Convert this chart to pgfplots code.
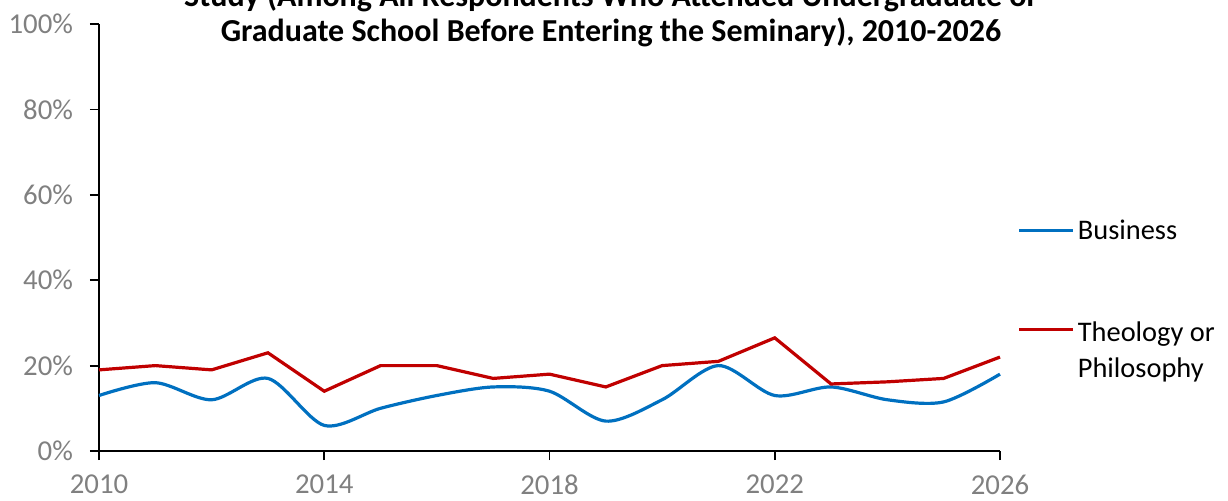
\documentclass[border=0pt]{standalone}
\usepackage{pgfplots}
\pgfplotsset{compat=1.18}
\usepackage{fontspec}
\setmainfont{Carlito}

\definecolor{bizblue}{HTML}{0070C0}
\definecolor{theored}{HTML}{C00000}
\definecolor{ticktext}{HTML}{808080}

\begin{document}
\begin{tikzpicture}
% page = 1228 x 500 px at 0.5pt per px, axis origin at px (99,451)
\useasboundingbox (-49.5pt,-24.5pt) rectangle (564.5pt,225.5pt);
\begin{axis}[
    at={(0pt,0pt)}, anchor=south west,
    scale only axis,
    width=450.5pt, height=213.5pt,
    xmin=2010, xmax=2026,
    ymin=0, ymax=100,
    xtick={2010,2014,2018,2022,2026},
    ytick={0,20,40,60,80,100},
    yticklabel={\pgfmathprintnumber{\tick}\%},
    xticklabel style={/pgf/number format/1000 sep={}, yshift=-4pt},
    yticklabel style={xshift=-5pt},
    /pgf/number format/assume math mode=true,
    tick label style={font=\fontsize{14.4}{17}\selectfont, text=ticktext},
    axis x line*=bottom, axis y line*=left,
    axis line style={black, line width=0.9pt},
    tick style={black, line width=0.9pt},
    tick align=outside,
    major tick length=4.5pt,
    xtick pos=bottom, ytick pos=left,
    clip=false,
    legend style={
        at={(1.0192,0.543)}, anchor=north west,
        draw=none, fill=none, inner sep=0pt,
        row sep=36.7pt, column sep=1.5pt,
        font=\fontsize{14.2}{18.3}\selectfont,
        nodes={inner sep=0pt},
    },
    legend cell align=left,
    legend image code/.code={\draw[#1] (0pt,0pt) -- (27pt,0pt);},
]
\addplot[bizblue, line width=1.6pt, smooth, tension=0.5] coordinates {
    (2010,13) (2011,16) (2012,12) (2013,17) (2014,6) (2015,10)
    (2016,13) (2017,15) (2018,14) (2019,7) (2020,12) (2021,20)
    (2022,13) (2023,15) (2024,12) (2025,11.5) (2026,18)
};
\addlegendentry{Business}
\addplot[theored, line width=1.6pt] coordinates {
    (2010,19) (2011,20) (2012,19) (2013,23) (2014,14) (2015,20)
    (2016,20) (2017,17) (2018,18) (2019,15) (2020,20) (2021,21)
    (2022,26.5) (2023,15.7) (2024,16.2) (2025,17) (2026,22)
};
\addlegendentry{\begin{tabular}[t]{@{}l@{}}Theology or\\Philosophy\end{tabular}}
\end{axis}
\node[anchor=base, font=\fontsize{16}{19}\selectfont\bfseries, inner sep=0pt]
    at (256pt,222.5pt) {Study (Among All Respondents Who Attended Undergraduate or};
\node[anchor=base, font=\fontsize{16}{19}\selectfont\bfseries, inner sep=0pt]
    at (256pt,205pt) {Graduate School Before Entering the Seminary), 2010-2026};
\end{tikzpicture}
\end{document}
